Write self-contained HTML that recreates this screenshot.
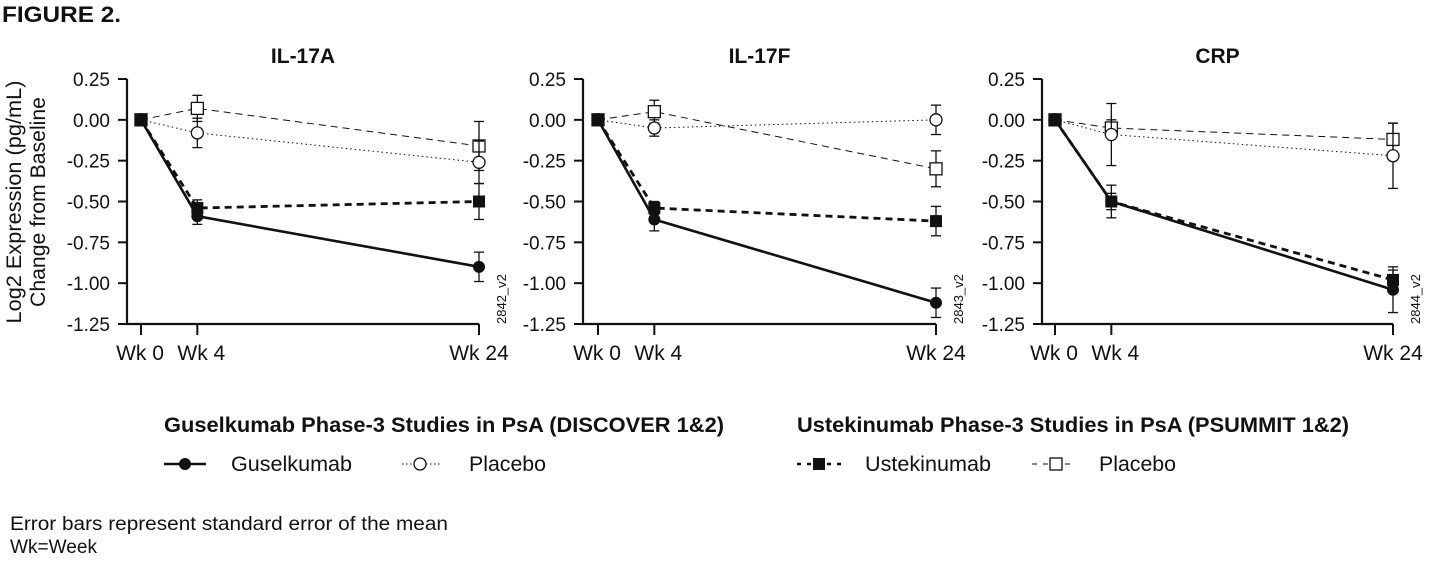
<!DOCTYPE html>
<html><head><meta charset="utf-8">
<style>
body{margin:0;background:#fff;width:1429px;height:561px;overflow:hidden;font-family:"Liberation Sans",Arial,sans-serif;}
svg text{font-family:"Liberation Sans",Arial,sans-serif;fill:#111;}
</style></head>
<body>
<svg id="chart" width="1429" height="561" viewBox="0 0 1429 561" xmlns="http://www.w3.org/2000/svg">
<text x="2" y="22" font-size="22" font-weight="bold" textLength="119" lengthAdjust="spacingAndGlyphs">FIGURE 2.</text>
<g>
<text transform="translate(21,202) rotate(-90)" text-anchor="middle" font-size="21" textLength="243" lengthAdjust="spacingAndGlyphs">Log2 Expression (pg/mL)</text>
<text transform="translate(45,202) rotate(-90)" text-anchor="middle" font-size="21" textLength="210" lengthAdjust="spacingAndGlyphs">Change from Baseline</text>
</g>
<g id="panels"></g>
<g>
<text x="164" y="432" font-size="21" font-weight="bold" textLength="560" lengthAdjust="spacingAndGlyphs">Guselkumab Phase-3 Studies in PsA (DISCOVER 1&amp;2)</text>
<text x="797" y="432" font-size="21" font-weight="bold" textLength="552" lengthAdjust="spacingAndGlyphs">Ustekinumab Phase-3 Studies in PsA (PSUMMIT 1&amp;2)</text>
<g>
<line x1="164" y1="464" x2="206" y2="464" stroke="#111" stroke-width="2.5"/><circle cx="185" cy="464" r="6" fill="#111"/>
<text x="231" y="471" font-size="21" textLength="121" lengthAdjust="spacingAndGlyphs">Guselkumab</text></g>
<g>
<line x1="402" y1="464" x2="442" y2="464" stroke="#111" stroke-width="1" stroke-dasharray="1.5,2.5"/><circle cx="420" cy="464" r="6" fill="#fff" stroke="#111" stroke-width="1.3"/>
<text x="469" y="471" font-size="21" textLength="77" lengthAdjust="spacingAndGlyphs">Placebo</text></g>
<g>
<line x1="797" y1="464" x2="842" y2="464" stroke="#111" stroke-width="2.5" stroke-dasharray="4,6"/><rect x="813" y="458" width="12" height="12" fill="#111"/>
<text x="865" y="471" font-size="21" textLength="126" lengthAdjust="spacingAndGlyphs">Ustekinumab</text></g>
<g>
<line x1="1032" y1="464" x2="1074" y2="464" stroke="#111" stroke-width="1" stroke-dasharray="5,6"/><rect x="1050" y="458" width="12" height="12" fill="#fff" stroke="#111" stroke-width="1.3"/>
<text x="1099" y="471" font-size="21" textLength="77" lengthAdjust="spacingAndGlyphs">Placebo</text></g>
</g>
<text x="10" y="530" font-size="19" textLength="438" lengthAdjust="spacingAndGlyphs">Error bars represent standard error of the mean</text>
<text x="10" y="553" font-size="19" textLength="87" lengthAdjust="spacingAndGlyphs">Wk=Week</text>
</svg>
<script>
const panelTitles = ["IL-17A","IL-17F","CRP"];
const panelCodes = ["2842_v2","2843_v2","2844_v2"];
const weeks = [0,4,24];
const weekLabels = ["Wk 0","Wk 4","Wk 24"];
const yTicks = [0.25,0,-0.25,-0.5,-0.75,-1,-1.25];
const gusMean = [[0,-0.59,-0.90],[0,-0.61,-1.12],[0,-0.50,-1.04]];
const gusErr  = [[0,0.05,0.09],[0,0.07,0.09],[0,0.05,0.14]];
const ustMean = [[0,-0.54,-0.50],[0,-0.54,-0.62],[0,-0.50,-0.98]];
const ustErr  = [[0,0.05,0.11],[0,0.04,0.09],[0,0.10,0.06]];
const gusPboMean = [[0,-0.08,-0.26],[0,-0.05,0.00],[0,-0.09,-0.22]];
const gusPboErr  = [[0,0.09,0.13],[0,0.05,0.09],[0,0.19,0.20]];
const ustPboMean = [[0,0.07,-0.16],[0,0.05,-0.30],[0,-0.05,-0.12]];
const ustPboErr  = [[0,0.08,0.15],[0,0.07,0.11],[0,0.05,0.10]];

const NS="http://www.w3.org/2000/svg";
const root=document.getElementById('panels');
const axisX=[127,583,1042];
const w0=[141,598,1055];
const w24=[479,936,1393];
const yTop=79, yBot=324;
function mk(tag,attrs,parent){const e=document.createElementNS(NS,tag);for(const k in attrs)e.setAttribute(k,attrs[k]);parent.appendChild(e);return e;}
function yScale(v){return yTop+(0.25-v)/1.5*(yBot-yTop);}

panelTitles.forEach((title,p)=>{
  const g=mk('g',{},root);
  
  
  const xS=wk=>w0[p]+(wk-weeks[0])/(weeks[2]-weeks[0])*(w24[p]-w0[p]);
  const t=mk('text',{x:(axisX[p]+w24[p])/2,y:63,'font-size':21,'font-weight':'bold','text-anchor':'middle'},g);
  t.textContent=title;
  
  
  const ya=mk('g',{},g);
  
  
  mk('line',{x1:axisX[p],y1:yTop,x2:axisX[p],y2:yBot+1,stroke:'#111','stroke-width':2.2},ya);
  yTicks.forEach(v=>{
    const y=yScale(v);
    mk('line',{x1:axisX[p]-9,y1:y,x2:axisX[p],y2:y,stroke:'#111','stroke-width':2},ya);
    const lt=mk('text',{x:axisX[p]-17,y:y+7,'font-size':19,'text-anchor':'end'},ya);
    lt.textContent=v.toFixed(2);
  });
  const xa=mk('g',{},g);
  
  
  mk('line',{x1:axisX[p]-1,y1:yBot,x2:w24[p],y2:yBot,stroke:'#111','stroke-width':2.2},xa);
  weeks.forEach((wk,i)=>{
    const x=xS(wk);
    mk('line',{x1:x,y1:yBot,x2:x,y2:yBot+11,stroke:'#111','stroke-width':2},xa);
    const lt=mk('text',{x:i===0?x-1:(i===1?x+4:x),y:360,'font-size':21,'text-anchor':'middle'},xa);
    lt.textContent=weekLabels[i];
  });
  const c=mk('text',{transform:`translate(${w24[p]+27},${yBot}) rotate(-90)`,'font-size':13},g);
  c.textContent=panelCodes[p];
  
  

  const series=[
    {name:'ustekinumab-placebo',m:ustPboMean[p],e:ustPboErr[p],dash:'7,5',sw:1,mark:'osq'},
    {name:'guselkumab-placebo',m:gusPboMean[p],e:gusPboErr[p],dash:'1.5,3',sw:1,mark:'ocirc'},
    {name:'ustekinumab',m:ustMean[p],e:ustErr[p],dash:'7,5',sw:2.8,mark:'fsq'},
    {name:'guselkumab',m:gusMean[p],e:gusErr[p],dash:'none',sw:2.6,mark:'fcirc'}
  ];
  series.forEach(s=>{
    const sg=mk('g',{},g);
    
    
    const pts=weeks.map((wk,i)=>[xS(wk),yScale(s.m[i])]);
    mk('polyline',{points:pts.map(q=>q.join(',')).join(' '),fill:'none',stroke:'#111','stroke-width':s.sw,'stroke-dasharray':s.dash},sg);
    weeks.forEach((wk,i)=>{
      const x=pts[i][0];
      if(s.e[i]>0){
        const y1=yScale(s.m[i]+s.e[i]),y2=yScale(s.m[i]-s.e[i]);
        mk('line',{x1:x,y1:y1,x2:x,y2:y2,stroke:'#111','stroke-width':1.3},sg);
        mk('line',{x1:x-5,y1:y1,x2:x+5,y2:y1,stroke:'#111','stroke-width':1.3},sg);
        mk('line',{x1:x-5,y1:y2,x2:x+5,y2:y2,stroke:'#111','stroke-width':1.3},sg);
      }
    });
    pts.forEach(([x,y])=>{
      let m;
      if(s.mark==='fcirc') m=mk('circle',{cx:x,cy:y,r:6,fill:'#111'},sg);
      else if(s.mark==='ocirc') m=mk('circle',{cx:x,cy:y,r:6,fill:'#fff',stroke:'#111','stroke-width':1.3},sg);
      else if(s.mark==='fsq') m=mk('rect',{x:x-6,y:y-6,width:12,height:12,fill:'#111'},sg);
      else m=mk('rect',{x:x-6,y:y-6,width:12,height:12,fill:'#fff',stroke:'#111','stroke-width':1.3},sg);
      
      
    });
  });
});
</script>
</body></html>
